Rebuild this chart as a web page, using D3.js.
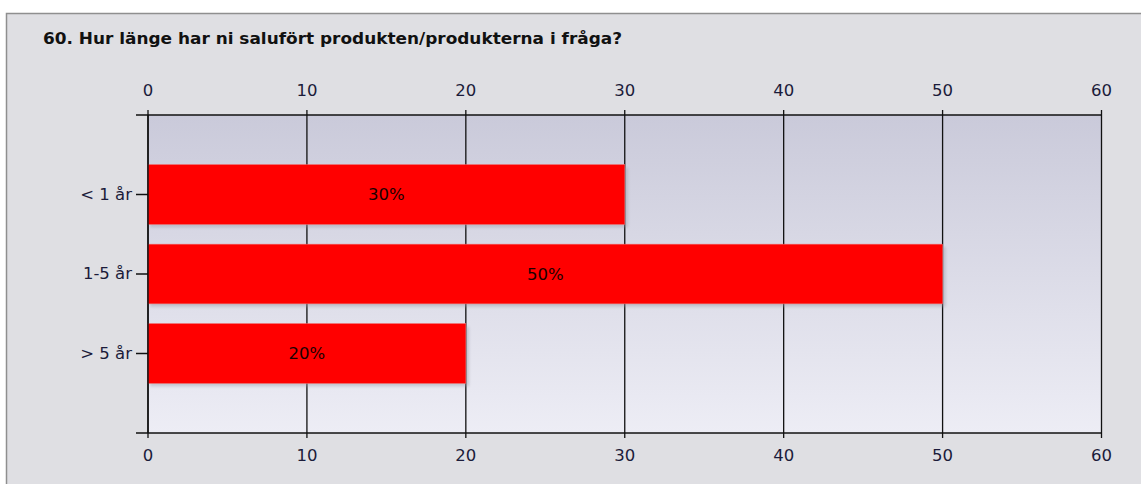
<!DOCTYPE html>
<html><head><meta charset="utf-8">
<script src="https://cdn.jsdelivr.net/npm/d3@7"></script>
<style>
html,body{margin:0;padding:0;background:#fff;}
svg{display:block;}
</style></head>
<body>
<script>
const title = "60. Hur länge har ni salufört produkten/produkterna i fråga?";
const categories = ["< 1 år", "1-5 år", "> 5 år"];
const values = [30, 50, 20];
const valueLabels = ["30%", "50%", "20%"];
const xTicks = [0, 10, 20, 30, 40, 50, 60];

(function(){
const W = 1141, H = 484;
const svg = d3.select("body").append("svg").attr("width", W).attr("height", H);
const defs = svg.append("defs");
const grad = defs.append("linearGradient").attr("id","pg").attr("x1",0).attr("y1",0).attr("x2",0).attr("y2",1);
grad.append("stop").attr("offset","0%").attr("stop-color","#cacada");
grad.append("stop").attr("offset","100%").attr("stop-color","#ededf5");
const blur = defs.append("filter").attr("id","sh").attr("x","-5%").attr("y","-20%").attr("width","110%").attr("height","140%");
blur.append("feGaussianBlur").attr("stdDeviation",1.5);

svg.append("rect").attr("width",W).attr("height",H).attr("fill","#ffffff");
svg.append("rect").attr("x",6.5).attr("y",13.5).attr("width",W).attr("height",H)
  .attr("fill","#dfdfe3").attr("stroke","#8f8f8f").attr("stroke-width",1.5);

const pL = 148, pR = 1101.5, pT = 115, pB = 433;
const x = d3.scaleLinear().domain([0,60]).range([pL,pR]);
const y = d3.scaleBand().domain(categories).range([pT,pB]).paddingInner(0.25).paddingOuter(0.625);
const FONT = "Tahoma, 'DejaVu Sans', sans-serif";
const FS = 16.5;

svg.append("text").attr("x",43).attr("y",44)
  .attr("font-family",FONT).attr("font-weight","bold")
  .attr("font-size",16).attr("fill","#111")
  .attr("textLength",579).attr("lengthAdjust","spacingAndGlyphs").text(title);

svg.append("rect").attr("x",pL).attr("y",pT).attr("width",pR-pL).attr("height",pB-pT).attr("fill","url(#pg)");

svg.append("g").selectAll("line").data(xTicks).join("line")
  .attr("x1",d=>x(d)).attr("x2",d=>x(d)).attr("y1",pT-5).attr("y2",pB+5)
  .attr("stroke","#111").attr("stroke-width",1.3);

const bars = svg.append("g");
bars.selectAll("rect.sh").data(values).join("rect").attr("class","sh")
  .attr("x",x(0)+2).attr("y",(d,i)=>y(categories[i])+3)
  .attr("width",d=>x(d)-x(0)+1).attr("height",y.bandwidth())
  .attr("fill","#9a9aa6").attr("opacity",0.45).attr("filter","url(#sh)");
bars.selectAll("rect.b").data(values).join("rect").attr("class","b")
  .attr("x",x(0)).attr("y",(d,i)=>y(categories[i]))
  .attr("width",d=>x(d)-x(0)).attr("height",y.bandwidth())
  .attr("fill","#ff0000").attr("stroke","#f06060").attr("stroke-width",0.6);
bars.selectAll("text").data(values).join("text")
  .attr("x",d=>(x(0)+x(d))/2).attr("y",(d,i)=>y(categories[i])+y.bandwidth()/2)
  .attr("dy","0.36em").attr("text-anchor","middle")
  .attr("font-family",FONT).attr("font-size",FS)
  .attr("fill","#1a0000").text((d,i)=>valueLabels[i]);

const ax = svg.append("g").attr("stroke","#111").attr("stroke-width",1.5);
ax.append("line").attr("x1",pL-12).attr("x2",pR).attr("y1",pT).attr("y2",pT);
ax.append("line").attr("x1",pL-12).attr("x2",pR).attr("y1",pB).attr("y2",pB);
ax.append("line").attr("x1",pL).attr("x2",pL).attr("y1",pT).attr("y2",pB);

const fmt = x.tickFormat();
[pT-19, pB+28].forEach(yy=>{
  svg.append("g").selectAll("text").data(xTicks).join("text")
    .attr("x",d=>x(d)).attr("y",yy).attr("text-anchor","middle")
    .attr("font-family",FONT).attr("font-size",FS)
    .attr("fill","#1b1b3a").text(d=>fmt(d));
});

const yAxis = d3.axisLeft(y).tickSize(12).tickPadding(4);
const yg = svg.append("g").attr("transform",`translate(${pL},0)`).call(yAxis);
yg.select(".domain").remove();
yg.selectAll(".tick line").attr("stroke","#111").attr("stroke-width",1.5);
yg.selectAll(".tick text").attr("font-family",FONT)
  .attr("font-size",FS).attr("fill","#1b1b3a");
})();
</script>
</body></html>
